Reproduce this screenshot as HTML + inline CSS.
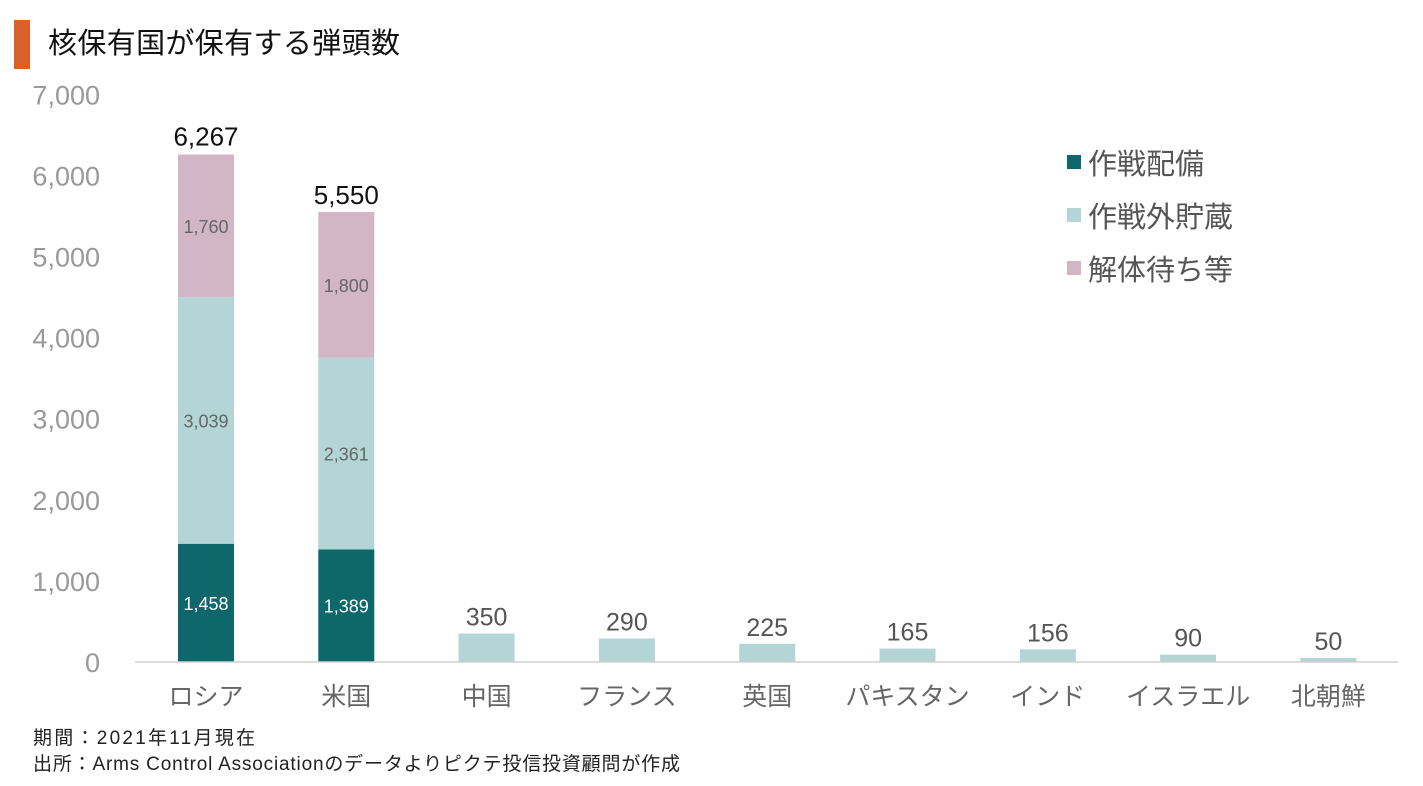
<!DOCTYPE html>
<html><head><meta charset="utf-8">
<style>
body{margin:0;background:#fff;}
svg{display:block;font-family:"Liberation Sans","Noto Sans CJK JP",sans-serif;}
</style></head>
<body>
<svg id="chart" width="1423" height="786">
<rect x="14" y="20" width="16" height="49" fill="#d9602a"/>
<text x="48" y="53" font-size="29" textLength="352" fill="#111">核保有国が保有する弾頭数</text>
<g id="yaxis"></g><g id="bars"></g><g id="xlabels"></g>
<line x1="135" y1="662" x2="1398" y2="662" stroke="#d0d0d0" stroke-width="1.5"/>
<g>
<rect x="1067" y="155" width="14" height="14" fill="#0e676b"/>
<text x="1088" y="174" font-size="29" fill="#555">作戦配備</text>
<rect x="1067" y="208" width="14" height="14" fill="#b3d5d5"/>
<text x="1088" y="227" font-size="29" fill="#555">作戦外貯蔵</text>
<rect x="1067" y="261" width="14" height="14" fill="#d3b6c5"/>
<text x="1088" y="280" font-size="29" fill="#555">解体待ち等</text>
</g>
<text x="33" y="744" font-size="19" textLength="222" fill="#222">期間：2021年11月現在</text>
<text x="33" y="770" font-size="19" textLength="647" fill="#222">出所：Arms Control Associationのデータよりピクテ投信投資顧問が作成</text>
</svg>
<script>
const categories=["ロシア","米国","中国","フランス","英国","パキスタン","インド","イスラエル","北朝鮮"];
const deployed=[1458,1389,0,0,0,0,0,0,0];
const stored=[3039,2361,350,290,225,165,156,90,50];
const retired=[1760,1800,0,0,0,0,0,0,0];
const totals=[6267,5550,350,290,225,165,156,90,50];
const yTicks=[0,1000,2000,3000,4000,5000,6000,7000];
const NS="http://www.w3.org/2000/svg";
const y0=662,pxPer=81.1/1000;
function y(v){return y0-v*pxPer;}
function x(i){return 206+i*140.3;}
function mk(tag,attrs,parent,text){const e=document.createElementNS(NS,tag);for(const k in attrs)e.setAttribute(k,attrs[k]);if(text!==undefined)e.textContent=text;parent.appendChild(e);return e;}
const fmt=v=>v.toLocaleString("en-US");
const ya=document.getElementById("yaxis");
yTicks.forEach(t=>{const e=mk("text",{x:100,y:y(t)+10,"font-size":27,fill:"#999","text-anchor":"end"},ya,fmt(t));

});
const bg=document.getElementById("bars"),xl=document.getElementById("xlabels");
const series=[[deployed,"#0e676b","deployed","#fff"],[stored,"#b3d5d5","stored","#666"],[retired,"#d3b6c5","retired","#666"]];
categories.forEach((c,i)=>{let base=0;
series.forEach(([arr,col,nm,tc])=>{const v=arr[i];if(!v)return;
const r=mk("rect",{x:x(i)-28,y:y(base+v),width:56,height:y(base)-y(base+v),fill:col},bg);


if(i<2){const t=mk("text",{x:x(i),y:(y(base)+y(base+v))/2+7,"font-size":18,fill:tc,"text-anchor":"middle"},bg,fmt(v));

}
base+=v;});
const tl=mk("text",{x:x(i),y:y(totals[i])-8,"font-size":i<2?26:25,fill:i<2?"#111":"#555","text-anchor":"middle"},bg,fmt(totals[i]));


const cl=mk("text",{x:x(i),y:705,"font-size":25,fill:"#666","text-anchor":"middle"},xl,c);

});
</script>
</body></html>
